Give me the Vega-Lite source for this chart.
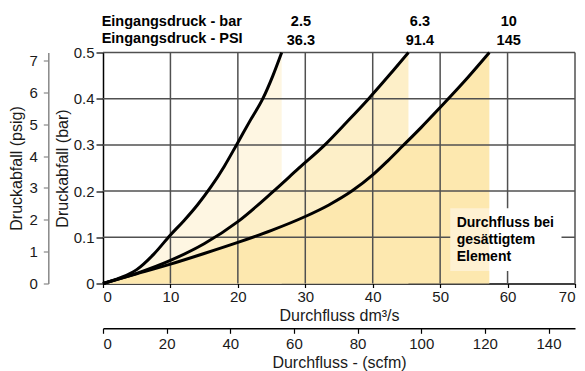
{
  "$schema": "https://vega.github.io/schema/vega-lite/v6.json",
  "width": 472,
  "height": 231,
  "autosize": {"type": "none"},
  "padding": {"left": 103, "top": 52.5, "right": 10, "bottom": 87.5},
  "background": "white",
  "config": {
    "font": "Liberation Sans",
    "view": {"stroke": null},
    "axis": {
      "grid": false,
      "labelFont": "Liberation Sans",
      "titleFont": "Liberation Sans",
      "labelFontSize": 15,
      "titleFontSize": 16,
      "titleFontWeight": "normal",
      "labelColor": "#1a1a1a",
      "titleColor": "#1a1a1a",
      "domainColor": "#000000",
      "tickColor": "#000000",
      "domainWidth": 1.5,
      "tickWidth": 1.2
    }
  },
  "datasets": {
    "curves": [
      {"bar": 2.5, "flow": 0, "dp": 0},
      {"bar": 2.5, "flow": 2.5, "dp": 0.012},
      {"bar": 2.5, "flow": 5, "dp": 0.03},
      {"bar": 2.5, "flow": 7.5, "dp": 0.063},
      {"bar": 2.5, "flow": 10, "dp": 0.105},
      {"bar": 2.5, "flow": 12, "dp": 0.136},
      {"bar": 2.5, "flow": 14, "dp": 0.17},
      {"bar": 2.5, "flow": 16, "dp": 0.209},
      {"bar": 2.5, "flow": 18, "dp": 0.254},
      {"bar": 2.5, "flow": 19.8, "dp": 0.3},
      {"bar": 2.5, "flow": 21.8, "dp": 0.352},
      {"bar": 2.5, "flow": 23.7, "dp": 0.4},
      {"bar": 2.5, "flow": 25.2, "dp": 0.45},
      {"bar": 2.5, "flow": 26.5, "dp": 0.5},
      {"bar": 6.3, "flow": 0, "dp": 0},
      {"bar": 6.3, "flow": 5, "dp": 0.022},
      {"bar": 6.3, "flow": 10, "dp": 0.05},
      {"bar": 6.3, "flow": 15, "dp": 0.086},
      {"bar": 6.3, "flow": 20, "dp": 0.134},
      {"bar": 6.3, "flow": 25.3, "dp": 0.2},
      {"bar": 6.3, "flow": 29, "dp": 0.249},
      {"bar": 6.3, "flow": 32.9, "dp": 0.3},
      {"bar": 6.3, "flow": 36.2, "dp": 0.35},
      {"bar": 6.3, "flow": 39.4, "dp": 0.4},
      {"bar": 6.3, "flow": 42.4, "dp": 0.45},
      {"bar": 6.3, "flow": 45.3, "dp": 0.5},
      {"bar": 10, "flow": 0, "dp": 0},
      {"bar": 10, "flow": 5, "dp": 0.021},
      {"bar": 10, "flow": 10, "dp": 0.042},
      {"bar": 10, "flow": 15, "dp": 0.065},
      {"bar": 10, "flow": 20, "dp": 0.089},
      {"bar": 10, "flow": 25, "dp": 0.115},
      {"bar": 10, "flow": 30, "dp": 0.145},
      {"bar": 10, "flow": 33.5, "dp": 0.17},
      {"bar": 10, "flow": 36.9, "dp": 0.2},
      {"bar": 10, "flow": 40, "dp": 0.235},
      {"bar": 10, "flow": 42.2, "dp": 0.265},
      {"bar": 10, "flow": 44.4, "dp": 0.297},
      {"bar": 10, "flow": 47.2, "dp": 0.338},
      {"bar": 10, "flow": 50, "dp": 0.381},
      {"bar": 10, "flow": 53.5, "dp": 0.436},
      {"bar": 10, "flow": 57.3, "dp": 0.5}
    ],
    "gridx": [{"flow": 10}, {"flow": 20}, {"flow": 30}, {"flow": 40}, {"flow": 50}, {"flow": 60}, {"flow": 70}],
    "gridy": [{"dp": 0.1}, {"dp": 0.2}, {"dp": 0.3}, {"dp": 0.4}, {"dp": 0.5}],
    "inlets": [
      {"barLabel": "2.5", "psiLabel": "36.3", "at": 29.35},
      {"barLabel": "6.3", "psiLabel": "91.4", "at": 47.0},
      {"barLabel": "10", "psiLabel": "145", "at": 60.17}
    ]
  },
  "layer": [
    {
      "layer": [
        {
          "data": {"name": "curves"},
          "transform": [{"filter": "datum.bar == 2.5"}],
          "mark": {"type": "area", "interpolate": "monotone", "color": "#FEF6E2"},
          "encoding": {
            "x": {
              "field": "flow", "type": "quantitative",
              "scale": {"domain": [0, 70], "nice": false, "zero": false},
              "axis": {
                "values": [0, 10, 20, 30, 40, 50, 60, 70],
                "title": "Durchfluss dm³/s",
                "tickSize": 4,
                "labelPadding": 2,
                "titlePadding": 3
              }
            },
            "y": {
              "field": "dp", "type": "quantitative",
              "scale": {"domain": [0, 0.5], "nice": false, "zero": false},
              "axis": {
                "values": [0, 0.1, 0.2, 0.3, 0.4, 0.5],
                "labelExpr": "datum.value == 0 ? '0' : format(datum.value, '.1f')",
                "title": "Druckabfall (bar)",
                "tickSize": 7,
                "labelPadding": 2,
                "titlePadding": 3
              }
            }
          }
        },
        {
          "data": {"name": "curves"},
          "transform": [{"filter": "datum.bar == 6.3"}],
          "mark": {"type": "area", "interpolate": "monotone", "color": "#FDEFC8"},
          "encoding": {
            "x": {"field": "flow", "type": "quantitative"},
            "y": {"field": "dp", "type": "quantitative"}
          }
        },
        {
          "data": {"name": "curves"},
          "transform": [{"filter": "datum.bar == 10"}],
          "mark": {"type": "area", "interpolate": "monotone", "color": "#FDE8AF"},
          "encoding": {
            "x": {"field": "flow", "type": "quantitative"},
            "y": {"field": "dp", "type": "quantitative"}
          }
        },
        {
          "data": {"name": "gridx"},
          "mark": {"type": "rule", "color": "#505050", "strokeWidth": 1.5},
          "encoding": {"x": {"field": "flow", "type": "quantitative"}}
        },
        {
          "data": {"name": "gridy"},
          "mark": {"type": "rule", "color": "#505050", "strokeWidth": 1.5},
          "encoding": {"y": {"field": "dp", "type": "quantitative"}}
        },
        {
          "data": {"values": [{}]},
          "mark": {"type": "rect", "color": "#FEF1D2"},
          "encoding": {
            "x": {"datum": 51.5}, "x2": {"datum": 57.3},
            "y": {"datum": 0.027}, "y2": {"datum": 0.163}
          }
        },
        {
          "data": {"values": [{}]},
          "mark": {"type": "rect", "color": "#FFFFFF"},
          "encoding": {
            "x": {"datum": 57.3}, "x2": {"datum": 68.0},
            "y": {"datum": 0.027}, "y2": {"datum": 0.163}
          }
        },
        {
          "data": {"name": "curves"},
          "mark": {"type": "line", "interpolate": "monotone", "color": "#000000", "strokeWidth": 3},
          "encoding": {
            "x": {"field": "flow", "type": "quantitative"},
            "y": {"field": "dp", "type": "quantitative"},
            "detail": {"field": "bar", "type": "nominal"}
          }
        },
        {
          "data": {"values": [{}]},
          "mark": {
            "type": "text", "align": "left", "baseline": "alphabetic",
            "fontSize": 14, "fontWeight": "bold", "color": "#000000", "lineHeight": 17,
            "text": ["Durchfluss bei", "gesättigtem", "Element"]
          },
          "encoding": {"x": {"datum": 52.45}, "y": {"datum": 0.1229}}
        },
        {
          "data": {"values": [{}]},
          "mark": {
            "type": "text", "align": "left", "baseline": "alphabetic",
            "fontSize": 14.5, "fontWeight": "bold", "color": "#000000",
            "text": "Eingangsdruck - bar"
          },
          "encoding": {"x": {"datum": -0.2}, "y": {"datum": 0.5584}}
        },
        {
          "data": {"values": [{}]},
          "mark": {
            "type": "text", "align": "left", "baseline": "alphabetic",
            "fontSize": 14.5, "fontWeight": "bold", "color": "#000000",
            "text": "Eingangsdruck - PSI"
          },
          "encoding": {"x": {"datum": -0.2}, "y": {"datum": 0.5195}}
        },
        {
          "data": {"name": "inlets"},
          "mark": {"type": "text", "align": "center", "baseline": "alphabetic", "fontSize": 14.5, "fontWeight": "bold", "color": "#000000"},
          "encoding": {
            "x": {"field": "at", "type": "quantitative"},
            "y": {"datum": 0.5563},
            "text": {"field": "barLabel", "type": "nominal"}
          }
        },
        {
          "data": {"name": "inlets"},
          "mark": {"type": "text", "align": "center", "baseline": "alphabetic", "fontSize": 14.5, "fontWeight": "bold", "color": "#000000"},
          "encoding": {
            "x": {"field": "at", "type": "quantitative"},
            "y": {"datum": 0.5152},
            "text": {"field": "psiLabel", "type": "nominal"}
          }
        }
      ]
    },
    {
      "data": {"values": [{"scfm": 0, "psig": 0}, {"scfm": 148.32, "psig": 7.2519}]},
      "mark": {"type": "point", "opacity": 0},
      "encoding": {
        "x": {
          "field": "scfm", "type": "quantitative",
          "scale": {"domain": [0, 148.32], "nice": false, "zero": false},
          "axis": {
            "orient": "bottom", "offset": 44.8,
            "values": [0, 20, 40, 60, 80, 100, 120, 140],
            "title": "Durchfluss - (scfm)",
            "tickSize": 5, "labelPadding": 3, "titlePadding": 3
          }
        },
        "y": {
          "field": "psig", "type": "quantitative",
          "scale": {"domain": [0, 7.2519], "nice": false, "zero": false},
          "axis": {
            "orient": "left", "offset": 54.7,
            "values": [0, 1, 2, 3, 4, 5, 6, 7],
            "title": "Druckabfall (psig)",
            "domainColor": "#888888", "tickColor": "#888888",
            "tickSize": 5, "labelPadding": 6, "titlePadding": 4
          }
        }
      }
    }
  ],
  "resolve": {"scale": {"x": "independent", "y": "independent"}}
}
